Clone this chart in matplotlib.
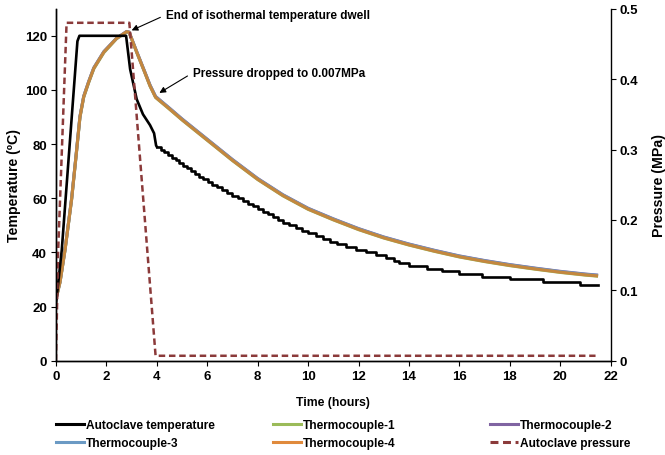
import numpy as np
import matplotlib.pyplot as plt
from matplotlib.lines import Line2D

plt.rcParams['font.family'] = ['Liberation Sans', 'DejaVu Sans']
plt.rcParams['font.weight'] = 'bold'

# autoclave air temperature: ramp, dwell, first part of cool-down (deg C)
at_time = [0.0, 0.23, 0.56, 0.85, 0.93, 2.78, 2.94, 3.2, 3.45, 3.73, 3.89, 3.97, 4.0]
at_temp = [21.0, 41.0, 82.0, 118.0, 120.0, 120.0, 107.7, 96.6, 91.0, 87.0, 84.0, 79.5, 79.0]
# after 4 h the logger reads in 1 deg C steps: time each level starts
step_time = [4.0, 4.15, 4.3, 4.45, 4.6, 4.75, 4.88, 5.02, 5.18, 5.35, 5.52, 5.68, 5.85,
             6.02, 6.2, 6.4, 6.6, 6.8, 7.0, 7.2, 7.4, 7.6, 7.8, 8.0, 8.2, 8.4, 8.6,
             8.8, 9.0, 9.25, 9.5, 9.75, 10.0, 10.3, 10.6, 10.85, 11.15, 11.5, 11.9,
             12.3, 12.7, 13.1, 13.4, 13.6, 14.0, 14.7, 15.3, 16.0, 16.9, 18.0, 19.3,
             20.8, 21.5]
step_temp = [79, 78, 77, 76, 75, 74, 73, 72, 71, 70, 69, 68, 67, 66, 65, 64, 63, 62,
             61, 60, 59, 58, 57, 56, 55, 54, 53, 52, 51, 50, 49, 48, 47, 46, 45, 44,
             43, 42, 41, 40, 39, 38, 37, 36, 35, 34, 33, 32, 31, 30, 29, 28, 28]

# part thermocouples (all four nearly on top of each other)
tc_time = [0.0, 0.16, 0.36, 0.62, 0.8, 0.95, 1.1, 1.3, 1.5, 1.9, 2.4, 2.8, 2.9, 3.2,
           3.5, 3.73, 3.95, 4.5, 5.0, 6.0, 7.0, 8.0, 9.0, 10.0, 11.0, 12.0, 13.0,
           14.0, 15.0, 16.0, 17.0, 18.0, 19.0, 20.0, 21.0, 21.5]
tc4 = [22.8, 29.0, 41.0, 59.7, 76.0, 90.0, 97.5, 103.0, 108.0, 114.0, 119.0, 121.5,
       121.3, 114.0, 107.0, 101.5, 97.3, 93.0, 89.0, 81.5, 74.0, 67.0, 61.0, 56.0,
       52.1, 48.5, 45.4, 42.8, 40.5, 38.4, 36.7, 35.2, 33.9, 32.7, 31.7, 31.3]
tc1 = [22.8, 29.0, 41.0, 59.5, 75.8, 89.8, 97.3, 102.8, 107.8, 113.8, 118.9, 121.4,
       121.2, 113.9, 106.9, 101.4, 97.2, 92.9, 88.9, 81.4, 73.9, 66.9, 60.9, 55.9,
       52.0, 48.4, 45.3, 42.7, 40.4, 38.3, 36.6, 35.1, 33.8, 32.6, 31.6, 31.2]
tc2 = [22.8, 29.2, 41.2, 59.9, 76.2, 90.2, 97.7, 103.2, 108.2, 114.2, 119.1, 121.6,
       121.4, 114.2, 107.2, 101.8, 97.6, 93.3, 89.3, 81.8, 74.3, 67.3, 61.3, 56.3,
       52.4, 48.8, 45.7, 43.1, 40.8, 38.7, 37.0, 35.5, 34.2, 33.0, 32.0, 31.6]
tc3 = [22.8, 29.1, 41.1, 59.8, 76.1, 90.1, 97.6, 103.1, 108.1, 114.1, 119.0, 121.5,
       121.3, 114.1, 107.1, 101.7, 97.5, 93.2, 89.2, 81.7, 74.2, 67.2, 61.2, 56.2,
       52.3, 48.7, 45.6, 43.0, 40.7, 38.6, 36.9, 35.4, 34.1, 32.9, 31.9, 31.5]

# autoclave pressure (MPa)
p_time = [0.0, 0.08, 0.42, 2.91, 3.95, 21.4]
p_val = [0.0, 0.15, 0.48, 0.48, 0.007, 0.007]

C_AT = 'black'
C_TC = ['#9BBB59', '#8064A2', '#6B9AC4', '#C4873E']
C_P = '#8B3A3A'

fig = plt.figure(figsize=(6.65, 4.56), dpi=100)
ax = fig.add_axes([0.0842, 0.2068, 0.8341, 0.7719])
ax2 = ax.twinx()

for y, c in zip([tc1, tc2, tc3, tc4], C_TC):
    ax.plot(tc_time, y, color=c, lw=2.2, solid_capstyle='butt', zorder=2)
ax.plot(at_time, at_temp, color=C_AT, lw=1.9, zorder=3)
ax.step(step_time, step_temp, where='post', color=C_AT, lw=1.9, zorder=3)
ax2.plot(p_time, p_val, color=C_P, lw=1.8, dashes=(2.6, 1.5))

ax.set_xlim(0, 22)
ax.set_ylim(0, 130)
ax2.set_ylim(0, 0.5)
ax.set_xticks(range(0, 23, 2))
ax.set_yticks(range(0, 121, 20))
ax2.set_yticks([0, 0.1, 0.2, 0.3, 0.4, 0.5])
ax2.set_yticklabels(['0', '0.1', '0.2', '0.3', '0.4', '0.5'])

for a in (ax, ax2):
    a.spines['top'].set_visible(False)
    a.tick_params(direction='out', length=3.5, width=0.8, labelsize=9.5, pad=3)
    for s in a.spines.values():
        s.set_linewidth(1.0)
ax.spines['right'].set_visible(False)

ax.set_xlabel('Time (hours)', fontsize=8.8, fontweight='bold', labelpad=10)
ax.set_ylabel('Temperature (ºC)', fontsize=10.2, fontweight='bold', labelpad=3)
ax2.set_ylabel('Pressure (MPa)', fontsize=10.2, fontweight='bold', labelpad=10)

arrow = dict(arrowstyle='-|>', color='black', lw=0.8, mutation_scale=9,
             shrinkA=2, shrinkB=0, relpos=(0, 0.5))
ax.annotate('End of isothermal temperature dwell', xy=(3.0, 122.0), xytext=(4.35, 127.7),
            fontsize=8.5, fontweight='bold', va='center', ha='left', arrowprops=arrow)
ax.annotate('Pressure dropped to 0.007MPa', xy=(4.1, 98.9), xytext=(5.42, 106.3),
            fontsize=8.5, fontweight='bold', va='center', ha='left', arrowprops=arrow)

def h(c, **kw):
    return Line2D([], [], color=c, lw=2.2, **kw)

cols = [
    ([h(C_AT), h(C_TC[2])], ['Autoclave temperature', 'Thermocouple-3'], 0.084),
    ([h(C_TC[0]), h('#E08A3C')], ['Thermocouple-1', 'Thermocouple-4'], 0.411),
    ([h(C_TC[1]), h(C_P, dashes=(2.6, 1.5))], ['Thermocouple-2', 'Autoclave pressure'], 0.737),
]
for hs, ls, x in cols:
    fig.legend(hs, ls, loc='upper left', bbox_to_anchor=(x, 0.079), frameon=False,
               fontsize=8.6, handlelength=2.35, handletextpad=0.15, labelspacing=0.5,
               borderaxespad=0, borderpad=0)

fig.savefig('out.png', dpi=100)
